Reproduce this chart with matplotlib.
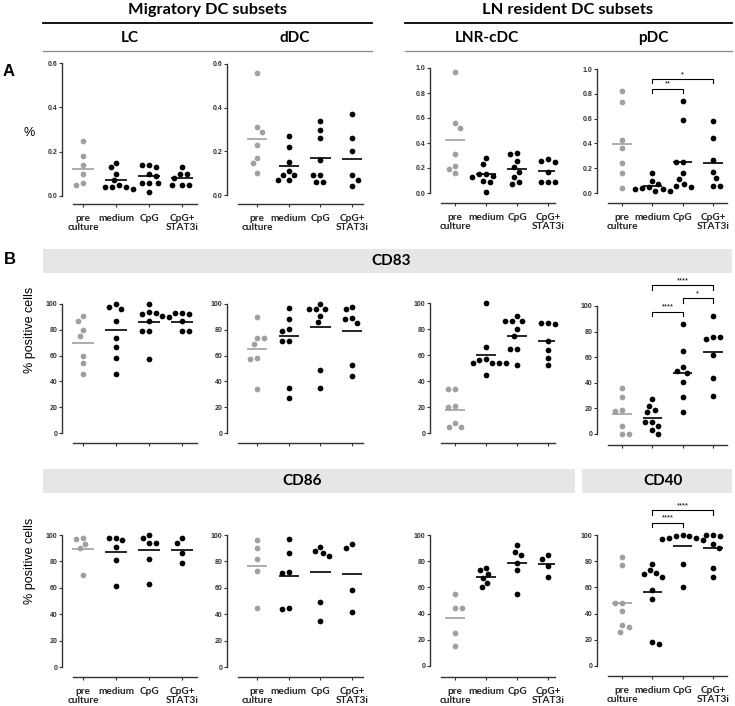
import numpy as np
import matplotlib
matplotlib.use("Agg")
from matplotlib import pyplot as plt
from matplotlib.lines import Line2D
from matplotlib.patches import Rectangle

W, H = 735, 706

groups = ["pre\nculture", "medium", "CpG", "CpG+\nSTAT3i"]

# A: frequency of DC subsets (%)
freq_lc = [[0.25, 0.18, 0.14, 0.10, 0.06, 0.05],
           [0.15, 0.13, 0.10, 0.07, 0.05, 0.04, 0.04, 0.04, 0.03],
           [0.14, 0.14, 0.13, 0.10, 0.09, 0.06, 0.06, 0.06, 0.02],
           [0.13, 0.10, 0.10, 0.08, 0.05, 0.05, 0.05]]
freq_ddc = [[0.56, 0.31, 0.29, 0.23, 0.17, 0.145, 0.10],
            [0.27, 0.22, 0.15, 0.11, 0.09, 0.09, 0.07, 0.07],
            [0.34, 0.30, 0.26, 0.16, 0.09, 0.09, 0.06, 0.06],
            [0.37, 0.26, 0.20, 0.09, 0.07, 0.04]]
freq_lnr = [[0.97, 0.56, 0.52, 0.31, 0.22, 0.19, 0.16],
            [0.28, 0.23, 0.15, 0.15, 0.14, 0.13, 0.10, 0.09, 0.01],
            [0.32, 0.31, 0.26, 0.21, 0.17, 0.13, 0.09, 0.07],
            [0.27, 0.26, 0.25, 0.17, 0.09, 0.09, 0.09]]
freq_pdc = [[0.82, 0.73, 0.43, 0.36, 0.24, 0.16, 0.04],
            [0.16, 0.10, 0.07, 0.05, 0.04, 0.03, 0.03, 0.02, 0.02],
            [0.74, 0.59, 0.25, 0.25, 0.16, 0.11, 0.07, 0.06, 0.05],
            [0.58, 0.44, 0.27, 0.17, 0.12, 0.06, 0.06]]
freq_lines = [[0.124, 0.074, 0.088, 0.079], [0.258, 0.134, 0.17, 0.163],
              [0.424, 0.15, 0.19, 0.173], [0.394, 0.054, 0.25, 0.24]]

# B: CD83 % positive cells
cd83_lc = [[91, 87, 80, 75, 60, 54, 46], [100, 98, 96, 87, 74, 67, 58, 46],
           [100, 94, 93, 92, 91, 87, 79, 79, 57], [93, 93, 92, 90, 87, 79, 79]]
cd83_ddc = [[90, 74, 74, 69, 58, 57, 34], [97, 88, 81, 79, 71, 71, 35, 27],
            [100, 96, 96, 96, 91, 86, 49, 35], [98, 96, 89, 88, 85, 53, 44]]
cd83_lnr = [[34, 34, 21, 20, 8, 5, 5], [100, 66, 57, 56, 54, 54, 54, 54, 45],
            [90, 86, 86, 86, 80, 75, 65, 65, 52], [85, 85, 84, 71, 64, 58, 52]]
cd83_pdc = [[36, 29, 19, 18, 6, 0, 0], [27, 22, 19, 17, 9, 9, 6, 3, 0],
            [86, 65, 52, 49, 48, 41, 29, 17], [92, 76, 76, 74, 62, 44, 30]]
cd83_lines = [[69.8, 79.9, 86.3, 86.3], [65, 75.3, 81.8, 78.7],
              [17.4, 60.3, 74.9, 71], [15.6, 12.5, 47.5, 64.4]]

# B: CD86 (LC, dDC, LNR-cDC) and CD40 (pDC)
cd86_lc = [[98, 97, 93, 90, 70], [98, 98, 96, 91, 81, 61],
           [100, 98, 94, 94, 82, 63], [98, 94, 86, 79]]
cd86_ddc = [[96, 90, 82, 73, 45], [97, 86, 72, 71, 45, 44],
            [91, 88, 86, 84, 49, 35], [93, 90, 58, 42]]
cd86_lnr = [[55, 44, 44, 25, 15], [75, 73, 70, 67, 63, 60],
            [92, 87, 85, 79, 73, 55], [85, 82, 76, 68]]
cd40_pdc = [[83, 77, 48, 48, 42, 31, 30, 26], [78, 73, 71, 70, 68, 58, 51, 18, 17],
            [100, 99, 99, 98, 98, 97, 96, 78, 60], [100, 100, 99, 93, 90, 75, 68]]
cd86_lines = [[89.6, 87.3, 88.6, 89], [76.7, 69, 71.9, 70.6],
              [36.4, 68.2, 78.4, 77.6], [48.3, 56.2, 91.6, 89.8]]

GRAY = "#a0a0a0"
HEAD = "Lato"
NUM = "Liberation Sans"

fig = plt.figure(figsize=(W / 100, H / 100), dpi=100)

# columns: y-axis px, right px, first category px, px per category
cols = [(62, 197, 83, 33), (227, 363, 257, 31.7), (430, 555, 455, 31), (597, 727, 622, 30.3)]


def fx(x):
    return x / W


def fy(y):
    return 1 - y / H


def swarm(vals, ppu, d=7.0):
    # greedy beeswarm in pixel space, returns x offsets in px
    ys = np.asarray(vals) * ppu
    order = np.argsort(ys)[::-1]
    placed = []
    offs = np.zeros(len(ys))
    side = 1
    for i in order:
        y = ys[i]
        cands = [0.0]
        for (px, py) in placed:
            dy = abs(y - py)
            if dy < d:
                dxx = np.sqrt(d * d - dy * dy)
                cands += [px + dxx, px - dxx]
        ok = [c for c in cands
              if all((c - px) ** 2 + (y - py) ** 2 >= d * d - 1e-6 for px, py in placed)]
        best = min(ok, key=lambda c: (round(abs(c), 3), -side * c))
        side = -side
        offs[i] = best
        placed.append((best, y))
    return offs


def panel(col, geo, data, lines, yticks, fmt, labels):
    left, right, x0, dx = col
    top, zero, base, ymax = geo
    ax = fig.add_axes([fx(left), fy(base), (right - left) / W, (base - top) / H])
    ppu = (zero - top) / ymax
    ax.set_ylim(-(base - zero) / ppu, ymax)
    ax.set_xlim((left - x0) / dx, (right - x0) / dx)
    ax.patch.set_alpha(0)
    for s in ["top", "right"]:
        ax.spines[s].set_visible(False)
    ax.spines["left"].set_bounds(0, ymax)
    ax.spines["bottom"].set_bounds((left + 11 - x0) / dx, (right - x0) / dx)
    for s in ["left", "bottom"]:
        ax.spines[s].set_linewidth(1.0)
        ax.spines[s].set_color("#333333")
    ax.set_yticks(yticks)
    ax.set_yticklabels([fmt.format(t) for t in yticks], fontsize=5, fontweight="bold",
                       family=NUM, color="#333333")
    ax.tick_params(axis="y", length=2.5, width=0.8, pad=1, color="#333333")
    ax.set_xticks(range(4))
    if labels:
        ax.set_xticklabels(groups, fontsize=7.2, fontweight="bold", family=HEAD,
                           color="#222222", linespacing=1.08)
    else:
        ax.set_xticklabels([])
    ax.tick_params(axis="x", length=2.5, width=0.8, pad=4.5, color="#333333")
    for g, vals in enumerate(data):
        vals = np.array(vals, dtype=float)
        c = GRAY if g == 0 else "black"
        xs = g + swarm(vals, ppu) / dx
        ax.scatter(xs, vals, s=17, color=c, linewidths=0, clip_on=False, zorder=3)
        ax.plot([g - 0.32, g + 0.32], [lines[g]] * 2, color=c, lw=1.2,
                solid_capstyle="butt", zorder=2)
    return ax, ppu


def bracket(ax, ppu, g1, g2, y, txt):
    leg = 4.5 / ppu
    ax.plot([g1, g1, g2, g2], [y - leg, y, y, y - leg], color="black", lw=0.8, clip_on=False)
    ax.text((g1 + g2) / 2, y + 1.0 / ppu, txt, ha="center", va="bottom", fontsize=5.5,
            family=NUM, clip_on=False)


rowA = [(63, 196, 204, 0.6), (64, 195, 204, 0.6), (68, 193, 203, 1.0), (69, 193, 203, 1.0)]
rowB1 = [(304, 433, 443, 100), (304, 433, 443, 100), (303, 433, 443, 100), (306, 434, 445, 100)]
rowB2 = [(535, 667, 677, 100), (535, 667, 677, 100), (535, 666, 677, 100), (535, 666, 676, 100)]

small = [0.0, 0.2, 0.4, 0.6]
big = [0.0, 0.2, 0.4, 0.6, 0.8, 1.0]
pct = [0, 20, 40, 60, 80, 100]

for k, d in enumerate([freq_lc, freq_ddc, freq_lnr, freq_pdc]):
    ticks = small if k < 2 else big
    ax, ppu = panel(cols[k], rowA[k], d, freq_lines[k], ticks, "{:.1f}", True)
    if k == 3:
        bracket(ax, ppu, 1, 2, 0.84, "**")
        bracket(ax, ppu, 1, 3, 0.92, "*")

for k, d in enumerate([cd83_lc, cd83_ddc, cd83_lnr, cd83_pdc]):
    ax, ppu = panel(cols[k], rowB1[k], d, cd83_lines[k], pct, "{:d}", False)
    if k == 3:
        bracket(ax, ppu, 1, 2, 95.5, "****")
        bracket(ax, ppu, 2, 3, 106, "*")
        bracket(ax, ppu, 1, 3, 116.4, "****")

for k, d in enumerate([cd86_lc, cd86_ddc, cd86_lnr, cd40_pdc]):
    ax, ppu = panel(cols[k], rowB2[k], d, cd86_lines[k], pct, "{:d}", True)
    if k == 3:
        bracket(ax, ppu, 1, 2, 109.4, "****")
        bracket(ax, ppu, 1, 3, 119, "****")

# headers
fig.text(fx(207), fy(10), "Migratory DC subsets", ha="center", va="center",
         fontsize=11.8, fontweight="bold", family=HEAD)
fig.text(fx(568), fy(10), "LN resident DC subsets", ha="center", va="center",
         fontsize=11.8, fontweight="bold", family=HEAD)
for x1, x2 in [(43, 372), (405, 732)]:
    fig.add_artist(Line2D([fx(x1), fx(x2)], [fy(22.5)] * 2, color="black", lw=1.3))
    fig.add_artist(Line2D([fx(x1), fx(x2)], [fy(51)] * 2, color="#888888", lw=0.9))
for x, t in [(130, "LC"), (295, "dDC"), (487, "LNR-cDC"), (653, "pDC")]:
    fig.text(fx(x), fy(38), t, ha="center", va="center", fontsize=11,
             fontweight="bold", family=HEAD)

fig.text(fx(9), fy(71), "A", ha="center", va="center", fontsize=12, fontweight="bold", family=NUM)
fig.text(fx(10), fy(259), "B", ha="center", va="center", fontsize=12, fontweight="bold", family=NUM)

fig.text(fx(29), fy(133), "%", ha="center", va="center", fontsize=9, family=NUM)
for y in [330, 561]:
    fig.text(fx(30), fy(y), "% positive cells", ha="center", va="center", rotation=90,
             fontsize=9, family=NUM)

# marker bands
bands = [(43, 732, 249, 273, "CD83", 391), (43, 575, 469, 493, "CD86", 302),
         (582, 732, 469, 493, "CD40", 663)]
for x1, x2, y1, y2, t, tx in bands:
    fig.add_artist(Rectangle((fx(x1), fy(y2)), (x2 - x1) / W, (y2 - y1) / H,
                             transform=fig.transFigure, color="#e6e6e6", lw=0, zorder=0))
    fig.text(fx(tx), fy((y1 + y2) / 2), t, ha="center", va="center", fontsize=11,
             fontweight="bold", family=HEAD)

fig.savefig("out.png", dpi=100)
